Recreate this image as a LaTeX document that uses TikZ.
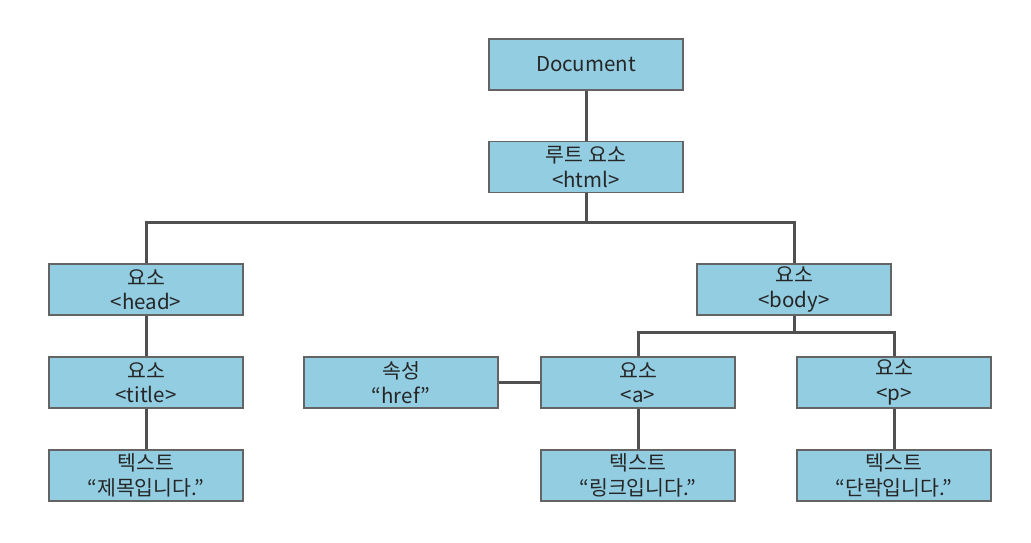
\documentclass[tikz,border=0pt]{standalone}
\usepackage{fontspec}
\setmainfont{Noto Sans CJK KR}
\definecolor{boxblue}{RGB}{146,205,226}
\definecolor{boxline}{RGB}{100,100,100}
\definecolor{wire}{RGB}{80,80,80}
\begin{document}
\begin{tikzpicture}[x=1pt,y=-1pt,dom/.style={shape=rectangle,draw=boxline,fill=boxblue,line width=1.2pt,minimum width=194pt,minimum height=51pt,align=center,font=\fontsize{20.5}{24.5}\selectfont,text=black!85,inner sep=0pt},link/.style={draw=wire,line width=3pt}]
\def\wl{146};
\def\wm{586};
\def\wr{794};
\def\dya{64.5};
\def\dyb{167};
\def\dyc{289.5};
\def\dyd{382.5};
\def\dye{475.5};

\useasboundingbox (0,0) rectangle (1031,543);

\node[dom] (doc) at (\wm,\dya) {Document};
\node[dom] (html) at (\wm,\dyb) {루트 요소\\<html>};
\draw[link] (doc.south) -- (html.north);

\node[dom] (head) at (\wl,\dyc) {요소\\<head>};
\node[dom] (body) at (\wr,\dyc) {요소\\<body>};
\coordinate (J1) at (\wm,222);
\draw[link] (html.south) -- (J1);
\draw[link] (J1) -| (head.north);
\draw[link] (J1) -| (body.north);

\node[dom] (title) at (\wl,\dyd) {요소\\<title>};
\draw[link] (head.south) -- (title.north);
\node[dom] (txtA) at (\wl,\dye) {텍스트\\“제목입니다.”};
\draw[link] (title.south) -- (txtA.north);

\node[dom] (tagA) at (638,\dyd) {요소\\<a>};
\node[dom] (tagP) at (894,\dyd) {요소\\<p>};
\coordinate (J2) at (\wr,332);
\draw[link] (body.south) -- (J2);
\draw[link] (J2) -| (tagA.north);
\draw[link] (J2) -| (tagP.north);

\node[dom] (href) at (401,\dyd) {속성\\“href”};
\draw[link] (href.east) -- (tagA.west);

\node[dom] (txtB) at (638,\dye) {텍스트\\“링크입니다.”};
\draw[link] (tagA.south) -- (txtB.north);
\node[dom] (txtC) at (894,\dye) {텍스트\\“단락입니다.”};
\draw[link] (tagP.south) -- (txtC.north);
\end{tikzpicture}
\end{document}
